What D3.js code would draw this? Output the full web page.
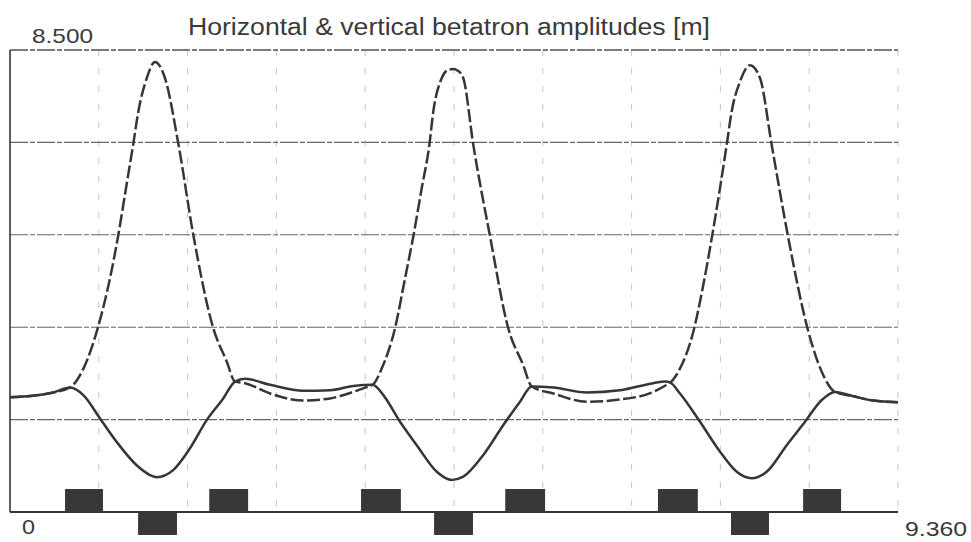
<!DOCTYPE html>
<html>
<head>
<meta charset="utf-8">
<script src="https://cdn.jsdelivr.net/npm/d3@7"></script>
<style>
  html, body { margin: 0; padding: 0; background: #fff; }
  svg { display: block; }
  text { font-family: "Liberation Sans", Arial, sans-serif; fill: #3a3a3a; }
</style>
</head>
<body>
<svg id="chart" width="971" height="542"></svg>
<script>
// ---- data ----
const title = "Horizontal & vertical betatron amplitudes [m]";
const xDomain = [0, 9.36];
const yDomain = [0, 8.5];
const xTickLabels = ["0", "9.360"];
const yTickLabels = ["8.500"];
const yGridValues = [1.7, 3.4, 5.1, 6.8, 8.5];
const xGridStep = 0.936;

// horizontal betatron amplitude (solid)
const sHor = [0, 0.24, 0.457, 0.632, 0.773, 0.949, 1.124, 1.335, 1.476, 1.546, 1.72, 1.897, 2.073, 2.248, 2.372,
  2.477, 2.741, 3.092, 3.373, 3.619, 3.823,
  3.935, 4.111, 4.287, 4.498, 4.656, 4.778, 4.989, 5.2, 5.376, 5.499,
  5.727, 6.079, 6.43, 6.781, 6.904, 6.96,
  7.062, 7.273, 7.484, 7.66, 7.818, 7.976, 8.187, 8.38, 8.556, 8.696,
  8.889, 9.1, 9.36];
const betaHor = [2.11, 2.14, 2.20, 2.29, 2.15, 1.72, 1.29, 0.86, 0.68, 0.64, 0.77, 1.17, 1.69, 2.09, 2.40,
  2.45, 2.34, 2.23, 2.24, 2.32, 2.34,
  2.15, 1.66, 1.23, 0.74, 0.59, 0.65, 1.05, 1.60, 2.03, 2.31,
  2.29, 2.20, 2.24, 2.37, 2.40, 2.38,
  2.18, 1.66, 1.11, 0.74, 0.62, 0.74, 1.23, 1.66, 2.06, 2.21,
  2.13, 2.05, 2.02];

// vertical betatron amplitude (dashed)
const sVer = [0, 0.24, 0.457, 0.632, 0.79, 0.924, 1.054, 1.142, 1.223, 1.30, 1.353, 1.441, 1.528, 1.634, 1.774, 1.932, 2.143, 2.284, 2.372,
  2.477, 2.741, 3.092, 3.373, 3.619, 3.777, 3.823,
  3.918, 4.058, 4.164, 4.251, 4.34, 4.42, 4.462, 4.55, 4.615, 4.673, 4.72, 4.778, 4.884, 5.06, 5.252, 5.41, 5.499,
  5.727, 6.079, 6.43, 6.781, 6.922, 6.96,
  7.062, 7.203, 7.308, 7.397, 7.554, 7.607, 7.695, 7.8, 7.906, 8.029, 8.204, 8.415, 8.556, 8.696,
  8.889, 9.1, 9.36];
const betaVer = [2.11, 2.14, 2.20, 2.29, 2.70, 3.38, 4.30, 5.10, 5.96, 6.78, 7.37, 7.98, 8.28, 7.98, 6.78, 5.10, 3.38, 2.77, 2.40,
  2.37, 2.18, 2.05, 2.09, 2.21, 2.31, 2.34,
  2.64, 3.38, 4.30, 5.07, 5.96, 6.75, 7.37, 7.98, 8.13, 8.15, 8.12, 7.98, 6.75, 5.07, 3.38, 2.70, 2.31,
  2.18, 2.03, 2.07, 2.21, 2.34, 2.38,
  2.64, 3.32, 4.18, 5.04, 6.75, 7.37, 7.92, 8.22, 7.98, 6.75, 5.04, 3.32, 2.58, 2.21,
  2.13, 2.05, 2.02];

// quadrupole lattice markers (F = above axis, D = below axis)
const quadStart = [0.58, 1.35, 2.10, 3.70, 4.47, 5.22, 6.83, 7.60, 8.36];
const quadEnd   = [0.98, 1.76, 2.51, 4.12, 4.88, 5.64, 7.25, 8.00, 8.76];
const quadType  = ["F", "D", "F", "F", "D", "F", "F", "D", "F"];

// ---- drawing ----
const svg = d3.select("#chart");
const margin = { left: 10, right: 73, top: 50, bottom: 30 };
const W = 971, H = 542;
const x = d3.scaleLinear().domain(xDomain).range([margin.left, W - margin.right]);
const y = d3.scaleLinear().domain(yDomain).range([H - margin.bottom, margin.top]);
const ink = "#363636";

// vertical grid lines
const xGrid = d3.range(1, 11).map(k => +(k * xGridStep).toFixed(3));
svg.append("g").selectAll("line").data(xGrid).join("line")
  .attr("x1", d => x(d)).attr("x2", d => x(d))
  .attr("y1", y(8.5)).attr("y2", y(0))
  .attr("stroke", "#c6c6c6").attr("stroke-width", 1)
  .attr("stroke-dasharray", "6,12");

// horizontal grid lines
svg.append("g").selectAll("line").data(yGridValues).join("line")
  .attr("x1", x(0)).attr("x2", x(9.36))
  .attr("y1", d => y(d)).attr("y2", d => y(d))
  .attr("stroke", d => d === 8.5 ? "#505050" : "#666")
  .attr("stroke-width", d => d === 8.5 ? 1.4 : 1.1)
  .attr("stroke-dasharray", "18,2,5,2");

// left axis line
svg.append("line")
  .attr("x1", x(0)).attr("x2", x(0))
  .attr("y1", y(8.5)).attr("y2", y(0))
  .attr("stroke", ink).attr("stroke-width", 1.6);

// quads
const qh = 23;
svg.append("g").selectAll("rect").data(quadStart.map((s, i) => ({ s, e: quadEnd[i], t: quadType[i] })))
  .join("rect")
  .attr("x", d => x(d.s))
  .attr("width", d => x(d.e) - x(d.s))
  .attr("y", d => d.t === "F" ? y(0) - qh : y(0))
  .attr("height", qh)
  .attr("fill", "#383838");

// bottom axis line
svg.append("line")
  .attr("x1", x(0)).attr("x2", x(9.36))
  .attr("y1", y(0)).attr("y2", y(0))
  .attr("stroke", ink).attr("stroke-width", 2);

const line = d3.line().x(d => x(d[0])).y(d => y(d[1])).curve(d3.curveMonotoneX);

svg.append("path")
  .attr("d", line(sVer.map((s, i) => [s, betaVer[i]])))
  .attr("fill", "none").attr("stroke", ink).attr("stroke-width", 2.5)
  .attr("stroke-dasharray", "13,3.5");

svg.append("path")
  .attr("d", line(sHor.map((s, i) => [s, betaHor[i]])))
  .attr("fill", "none").attr("stroke", ink).attr("stroke-width", 2.5);

// texts
svg.append("text")
  .attr("x", 188).attr("y", 35)
  .attr("font-size", 23)
  .attr("textLength", 522).attr("lengthAdjust", "spacingAndGlyphs")
  .text(title);

svg.append("text")
  .attr("x", 32).attr("y", 43)
  .attr("font-size", 21)
  .attr("textLength", 61).attr("lengthAdjust", "spacingAndGlyphs")
  .text(yTickLabels[0]);

svg.append("text")
  .attr("x", 22).attr("y", 534)
  .attr("font-size", 21)
  .attr("textLength", 13).attr("lengthAdjust", "spacingAndGlyphs")
  .text(xTickLabels[0]);

svg.append("text")
  .attr("x", 905).attr("y", 536)
  .attr("font-size", 21)
  .attr("textLength", 62).attr("lengthAdjust", "spacingAndGlyphs")
  .text(xTickLabels[1]);
</script>
</body>
</html>
